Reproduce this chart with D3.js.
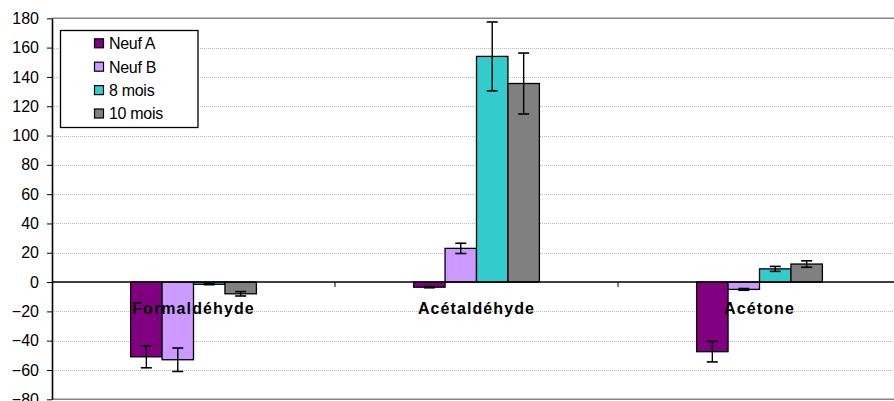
<!DOCTYPE html>
<html>
<head>
<meta charset="utf-8">
<script src="https://cdn.jsdelivr.net/npm/d3@7"></script>
<style>
  html, body { margin: 0; padding: 0; background: #fff; }
  svg { display: block; font-family: "Liberation Sans", Arial, sans-serif; }
</style>
</head>
<body>
<svg id="chart" width="894" height="401"></svg>
<script>
const categories = ["Formaldéhyde", "Acétaldéhyde", "Acétone"];
const seriesNames = ["Neuf A", "Neuf B", "8 mois", "10 mois"];
const seriesColors = ["#800080", "#CC99FF", "#33CCCC", "#808080"];
const valuesNeufA = [-51, -3.5, -47.5];
const valuesNeufB = [-53, 23, -5];
const values8mois = [-1.5, 154, 9];
const values10mois = [-8, 135.5, 12.3];
const errNeufA = [7.5, 0.4, 7];
const errNeufB = [8, 3.5, 0.6];
const err8mois = [0.3, 23.5, 1.7];
const err10mois = [1.5, 20.8, 2.2];
const yTicks = [-80, -60, -40, -20, 0, 20, 40, 60, 80, 100, 120, 140, 160, 180];

const values = [valuesNeufA, valuesNeufB, values8mois, values10mois];
const errors = [errNeufA, errNeufB, err8mois, err10mois];

const svg = d3.select("#chart");
const plotLeft = 52, plotRight = 901, plotTop = 18.3, plotBottom = 399.3;

const y = d3.scaleLinear().domain([-80, 180]).range([plotBottom, plotTop]);
const x0 = d3.scaleBand().domain(categories).range([plotLeft, plotRight]).padding(0);
const x1 = d3.scaleBand().domain(seriesNames).range([0, x0.bandwidth()])
  .paddingInner(0).paddingOuter(2.5);

// gridlines
svg.append("g").selectAll("line").data(yTicks.filter(t => t !== 0 && t !== 180 && t !== -80))
  .join("line")
  .attr("x1", plotLeft).attr("x2", plotRight)
  .attr("y1", d => Math.round(y(d)) + 0.5).attr("y2", d => Math.round(y(d)) + 0.5)
  .attr("stroke", "#bbb").attr("stroke-width", 1).attr("stroke-dasharray", "1,1");

// plot top and bottom borders
svg.append("line").attr("x1", plotLeft).attr("x2", plotRight).attr("y1", y(180)).attr("y2", y(180))
  .attr("stroke", "#888").attr("stroke-width", 1.6);
svg.append("line").attr("x1", plotLeft).attr("x2", plotRight).attr("y1", y(-80)).attr("y2", y(-80))
  .attr("stroke", "#888").attr("stroke-width", 1.6);

// y axis
const yAxis = d3.axisLeft(y).tickValues(yTicks).tickSize(5).tickPadding(8).tickSizeOuter(0);
const gy = svg.append("g").attr("transform", `translate(${plotLeft},0)`).call(yAxis);
gy.select(".domain").attr("stroke", "#000").attr("stroke-width", 1.6);
gy.selectAll(".tick line").attr("stroke", "#000");
gy.selectAll(".tick text").attr("font-size", 16).attr("fill", "#000")
  .attr("font-family", "'Liberation Sans', Arial, sans-serif");

// bars
const groups = svg.append("g").selectAll("g").data(categories).join("g")
  .attr("transform", d => `translate(${x0(d)},0)`);

seriesNames.forEach((s, si) => {
  groups.append("rect")
    .attr("x", x1(s))
    .attr("width", x1.bandwidth())
    .attr("y", (d, ci) => y(Math.max(0, values[si][ci])))
    .attr("height", (d, ci) => Math.abs(y(values[si][ci]) - y(0)))
    .attr("fill", seriesColors[si])
    .attr("stroke", "#000").attr("stroke-width", 1.3);
});

// zero line
svg.append("line").attr("x1", plotLeft).attr("x2", plotRight).attr("y1", y(0)).attr("y2", y(0))
  .attr("stroke", "#000").attr("stroke-width", 1.4);

// category ticks
svg.append("g").selectAll("line").data(categories.slice(1)).join("line")
  .attr("x1", d => x0(d)).attr("x2", d => x0(d))
  .attr("y1", y(0)).attr("y2", y(0) + 5)
  .attr("stroke", "#000").attr("stroke-width", 1);

// error bars
seriesNames.forEach((s, si) => {
  const eg = groups.append("g");
  const cx = x1(s) + x1.bandwidth() / 2;
  eg.append("line").attr("x1", cx).attr("x2", cx)
    .attr("y1", (d, ci) => y(values[si][ci] + errors[si][ci]))
    .attr("y2", (d, ci) => y(values[si][ci] - errors[si][ci]))
    .attr("stroke", "#000").attr("stroke-width", 1.4);
  [1, -1].forEach(sign => {
    eg.append("line").attr("x1", cx - 5.5).attr("x2", cx + 5.5)
      .attr("y1", (d, ci) => y(values[si][ci] + sign * errors[si][ci]))
      .attr("y2", (d, ci) => y(values[si][ci] + sign * errors[si][ci]))
      .attr("stroke", "#000").attr("stroke-width", 1.6);
  });
});

// category labels
svg.append("g").selectAll("text").data(categories).join("text")
  .attr("x", d => x0(d) + x0.bandwidth() / 2)
  .attr("y", y(0) + 31.5)
  .attr("text-anchor", "middle")
  .attr("font-size", 16).attr("font-weight", "bold")
  .attr("letter-spacing", "1.1px")
  .attr("fill", "#000")
  .text(d => d);

// legend
const lg = svg.append("g");
lg.append("rect").attr("x", 60.5).attr("y", 30.5).attr("width", 137.5).attr("height", 97)
  .attr("fill", "#fff").attr("stroke", "#000").attr("stroke-width", 1.3);
const items = lg.selectAll("g.item").data(seriesNames).join("g").attr("class", "item")
  .attr("transform", (d, i) => `translate(0,${43.3 + i * 23.4})`);
items.append("rect").attr("x", 94.5).attr("y", -4.5).attr("width", 9).attr("height", 9)
  .attr("fill", (d, i) => seriesColors[i]).attr("stroke", "#000").attr("stroke-width", 1.2);
items.append("text").attr("x", 109).attr("y", 5.8)
  .attr("font-size", 16).attr("fill", "#000").attr("letter-spacing", "-0.3px")
  .text(d => d);
</script>
</body>
</html>
